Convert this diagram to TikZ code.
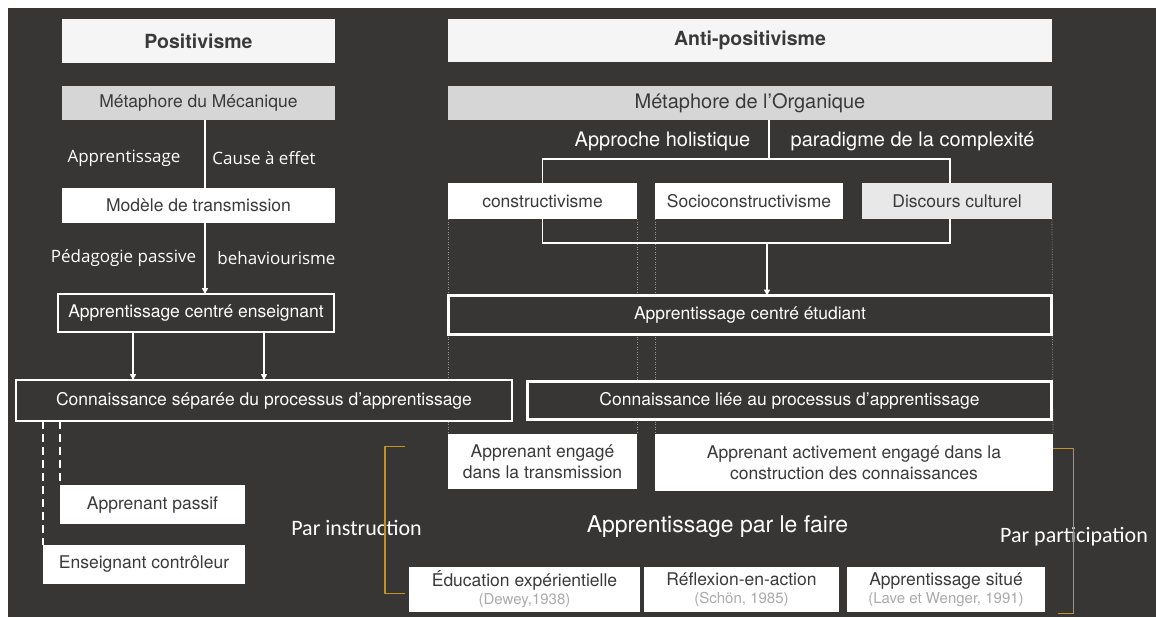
\documentclass[tikz,border=0pt]{standalone}
\usepackage{fontspec}
\setmainfont{TeX Gyre Heros}
\newfontfamily\opensans{Open Sans}
\newfontfamily\carlito{Carlito}
\usetikzlibrary{arrows.meta}
\definecolor{bg}{RGB}{56,54,52}
\definecolor{txt}{RGB}{58,58,58}
\definecolor{titlefill}{RGB}{245,245,245}
\definecolor{metfill}{RGB}{214,214,214}
\definecolor{discfill}{RGB}{232,232,232}
\definecolor{gold}{RGB}{196,146,32}
\definecolor{citec}{RGB}{170,170,170}
\definecolor{dotc}{RGB}{150,150,150}
\pgfdeclarelayer{back}
\pgfdeclarelayer{mid}
\pgfsetlayers{back,mid,main}
\begin{document}
\begin{tikzpicture}[x=1pt,y=-1pt,
  box/.style={inner sep=0pt, outer sep=0pt, align=center, text=txt, font=\fontsize{17.5}{20.5}\selectfont},
  titlebox/.style={box, fill=titlefill, font=\bfseries\fontsize{19.5}{22}\selectfont},
  metbox/.style={box, fill=metfill},
  whitebox/.style={box, fill=white},
  darkbox/.style={box, fill=bg, draw=white, line width=1.5pt, text=white},
  thickbox/.style={box, fill=bg, draw=white, line width=3pt, text=white},
  lbl/.style={text=white, font=\opensans\fontsize{17}{20}\selectfont, inner sep=0pt},
  hlbl/.style={text=white, font=\fontsize{20}{23}\selectfont, inner sep=0pt},
  clbl/.style={text=white, font=\carlito\fontsize{22}{25}\selectfont, inner sep=0pt},
  conn/.style={white, line width=1.5pt},
  arr/.style={conn, -{Triangle[width=6pt,length=6pt]}},
  dashconn/.style={white, line width=2pt, dash pattern=on 8pt off 5pt},
  dotline/.style={dotc, line width=0.7pt, dash pattern=on 1pt off 1.5pt},
  bracket/.style={gold, line width=1.5pt}
]
\newcommand{\citetxt}[1]{{\color{citec}\fontsize{15}{17}\selectfont #1}}
\useasboundingbox (0,0) rectangle (1156,616);
\begin{pgfonlayer}{back}
\fill[bg] (0,0) rectangle (1160,630);
\fill[white] (0,0) rectangle (1160,8);
\fill[white] (0,0) rectangle (8,630);
\end{pgfonlayer}

% ---------- left column ----------
\node[titlebox, minimum width=273pt, minimum height=44pt] (pos) at (198.5,41) {Positivisme};
\node[metbox, minimum width=273pt, minimum height=34pt] (metm) at (198.5,103) {Métaphore du Mécanique};
\node[whitebox, minimum width=273pt, minimum height=35pt] (model) at (198.5,205.5) {Modèle de transmission};
\node[darkbox, minimum width=276pt, minimum height=38pt] (ace) at (196,313) {Apprentissage centré enseignant};
\node[darkbox, minimum width=496pt, minimum height=41pt] (cs) at (264,400.5) {Connaissance séparée du processus d’apprentissage};
\node[whitebox, minimum width=185pt, minimum height=39pt] (ap) at (152.5,504.5) {Apprenant passif};
\node[whitebox, minimum width=202pt, minimum height=39pt] (ec) at (144,564.5) {Enseignant contrôleur};

\node[lbl] (l1) at (124,158) {Apprentissage};
\node[lbl] (l2) at (264,158) {Cause à effet};
\node[lbl] (l3) at (123.5,258) {Pédagogie passive};
\node[lbl] (l4) at (276.5,258) {behaviourisme};

\coordinate (xa) at (205,0);
\coordinate (xb) at (133,0);
\coordinate (xc) at (264,0);
\draw[conn] (metm.south -| xa) -- (model.north -| xa);
\draw[arr] (model.south -| xa) -- (ace.north -| xa);
\draw[arr] (ace.south -| xb) -- (cs.north -| xb);
\draw[arr] (ace.south -| xc) -- (cs.north -| xc);
\draw[dashconn] (cs.south -| ap.west) -- (ap.north west);
\draw[dashconn] (cs.south -| ec.west) -- (ec.north west);

% ---------- right column ----------
\node[titlebox, minimum width=604pt, minimum height=43pt] (anti) at (750,40.5) {Anti-positivisme};
\node[metbox, minimum width=604pt, minimum height=34pt, font=\fontsize{20}{23}\selectfont] (meto) at (750,103) {Métaphore de l’Organique};
\node[hlbl] (h1) at (662.5,141) {Approche holistique};
\node[hlbl] (h2) at (912.5,141) {paradigme de la complexité};
\node[whitebox, minimum width=189pt, minimum height=36pt] (cons) at (542.5,201) {constructivisme};
\node[whitebox, minimum width=188pt, minimum height=36pt] (socio) at (749,201) {Socioconstructivisme};
\node[box, fill=discfill, minimum width=190pt, minimum height=36pt] (disc) at (957,201) {Discours culturel};
\node[thickbox, minimum width=603pt, minimum height=39pt] (acet) at (750,315) {Apprentissage centré étudiant};
\node[thickbox, minimum width=524pt, minimum height=38pt] (cl) at (789.5,400.5) {Connaissance liée au processus d’apprentissage};
\node[whitebox, minimum width=189pt, minimum height=55pt] (ae) at (542.5,461.5) {Apprenant engagé\\dans la transmission};
\node[whitebox, minimum width=398pt, minimum height=57pt] (aa) at (854,462.5) {Apprenant activement engagé dans la\\construction des connaissances};

\coordinate (xs) at (769,0);
\coordinate (xr) at (950,0);
\coordinate (xm) at (767,0);
\coordinate (yh) at (0,159);
\coordinate (yl) at (0,243);
\draw[conn] (meto.south -| xs) -- (xs |- yh);
\draw[conn] (cons.north) |- (xr |- yh) -- (disc.north -| xr);
\draw[conn] (cons.south) |- (xr |- yl) -- (disc.south -| xr);
\draw[arr] (xm |- yl) -- (acet.north -| xm);

\begin{pgfonlayer}{mid}
\draw[dotline] (cons.south west) -- (ae.north west);
\draw[dotline] (cons.south east) -- (ae.north east);
\draw[dotline] (socio.south west) -- (aa.north west);
\draw[dotline] (disc.south east) -- (aa.north east);
\end{pgfonlayer}

% ---------- bottom ----------
\node[text=white, font=\fontsize{23}{27}\selectfont, inner sep=0pt] (apf) at (717.5,527) {Apprentissage par le faire};
\node[clbl] (pi) at (356.5,528) {Par instruction};
\node[clbl] (pp) at (1074,537) {Par participation};
\node[whitebox, minimum width=231pt, minimum height=45pt, font=\fontsize{17.5}{18}\selectfont] (edu) at (524.5,589.5) {Éducation expérientielle\\\citetxt{(Dewey,1938)}};
\node[whitebox, minimum width=195pt, minimum height=45pt, font=\fontsize{17.5}{18}\selectfont] (refl) at (741.5,589.5) {Réflexion-en-action\\\citetxt{(Schön, 1985)}};
\node[whitebox, minimum width=198pt, minimum height=45pt, font=\fontsize{17.5}{18}\selectfont] (sit) at (946,589.5) {Apprentissage situé\\\citetxt{(Lave et Wenger, 1991)}};

\draw[bracket] (405,446.5) -- (385,446.5) -- (385,593.5) -- (405,593.5);
\draw[bracket] (1053,448.5) -- (1073.5,448.5) -- (1073.5,613.5) -- (1058,613.5);
\end{tikzpicture}
\end{document}
